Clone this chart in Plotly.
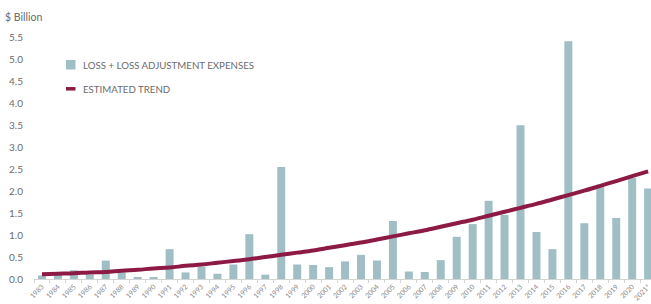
import plotly.graph_objects as go

years = [str(y) for y in range(1983, 2021)] + ["2021*"]
losses = [0.08, 0.10, 0.20, 0.10, 0.42, 0.15, 0.03, 0.03, 0.68, 0.15,
          0.28, 0.12, 0.33, 1.02, 0.10, 2.55, 0.33, 0.32, 0.27, 0.40,
          0.55, 0.42, 1.32, 0.17, 0.16, 0.43, 0.96, 1.25, 1.78, 1.46,
          3.50, 1.07, 0.68, 5.41, 1.27, 2.15, 1.39, 2.30, 2.06]
trend = [0.11, 0.12, 0.13, 0.15, 0.16, 0.19, 0.21, 0.24, 0.26, 0.30,
         0.33, 0.37, 0.41, 0.45, 0.50, 0.55, 0.60, 0.65, 0.71, 0.77,
         0.83, 0.90, 0.97, 1.04, 1.11, 1.19, 1.27, 1.35, 1.44, 1.53,
         1.62, 1.71, 1.81, 1.91, 2.01, 2.12, 2.23, 2.34, 2.45]
y_ticks = [0.0, 0.5, 1.0, 1.5, 2.0, 2.5, 3.0, 3.5, 4.0, 4.5, 5.0, 5.5]
legend_labels = ["LOSS + LOSS ADJUSTMENT EXPENSES", "ESTIMATED TREND"]

BAR = "#9fbfc4"
LINE = "#8c1a45"
TXT = "#6b6b6b"
FONT = "Lato"

W, H = 651, 304
L, R, T, B = 34, 0, 33, 25
PW, PH = W - L - R, H - T - B


def px(x):
    return (x - L) / PW


def py(y):
    return (H - B - y) / PH


fig = go.Figure()
fig.add_trace(go.Bar(x=years, y=losses, name=legend_labels[0],
                     marker=dict(color=BAR, line=dict(width=0)), width=0.5))
fig.add_trace(go.Scatter(x=years, y=trend, name=legend_labels[1], mode="lines",
                         line=dict(color=LINE, width=4, shape="spline")))

shapes = [
    dict(type="rect", xref="paper", yref="paper", x0=px(66), x1=px(75.5),
         y0=py(69.5), y1=py(60), fillcolor=BAR, line=dict(width=0)),
    dict(type="line", xref="paper", yref="paper", x0=px(66), x1=px(75.5),
         y0=py(88.8), y1=py(88.8), line=dict(color=LINE, width=3.5)),
]
annotations = [
    dict(text="$ Billion", xref="paper", yref="paper", x=px(3), y=py(17),
         xanchor="left", yanchor="middle", showarrow=False,
         font=dict(size=10.5, color=TXT, family=FONT)),
    dict(text=legend_labels[0], xref="paper", yref="paper", x=px(80.5), y=py(65),
         xanchor="left", yanchor="middle", showarrow=False,
         font=dict(size=9.7, color=TXT, family=FONT)),
    dict(text=legend_labels[1], xref="paper", yref="paper", x=px(80.5), y=py(88.5),
         xanchor="left", yanchor="middle", showarrow=False,
         font=dict(size=9.7, color=TXT, family=FONT)),
]

fig.update_layout(
    width=W, height=H,
    margin=dict(l=L, r=R, t=T, b=B, autoexpand=False),
    paper_bgcolor="white", plot_bgcolor="white",
    font=dict(family=FONT, color=TXT, size=10),
    showlegend=False,
    bargap=0.5,
    shapes=shapes,
    annotations=annotations,
)
fig.update_xaxes(type="category", range=[-0.5, 38.18], showgrid=False,
                 showline=True, linecolor="#d4d4d4", linewidth=1,
                 ticks="outside", tickson="boundaries", ticklen=3, tickcolor="#d4d4d4",
                 tickangle=-45, tickfont=dict(size=7, color="#8a8a8a"), automargin=False)
fig.update_yaxes(range=[0, 5.6], tickvals=y_ticks, ticktext=[f"{v:.1f}" for v in y_ticks],
                 showgrid=False, zeroline=False, showline=False,
                 ticks="outside", ticklen=8, tickcolor="rgba(0,0,0,0)",
                 tickfont=dict(size=10, color=TXT), automargin=False)

fig.write_html("out.html", config={"displayModeBar": False},
               post_script="document.body.style.margin='0';")
